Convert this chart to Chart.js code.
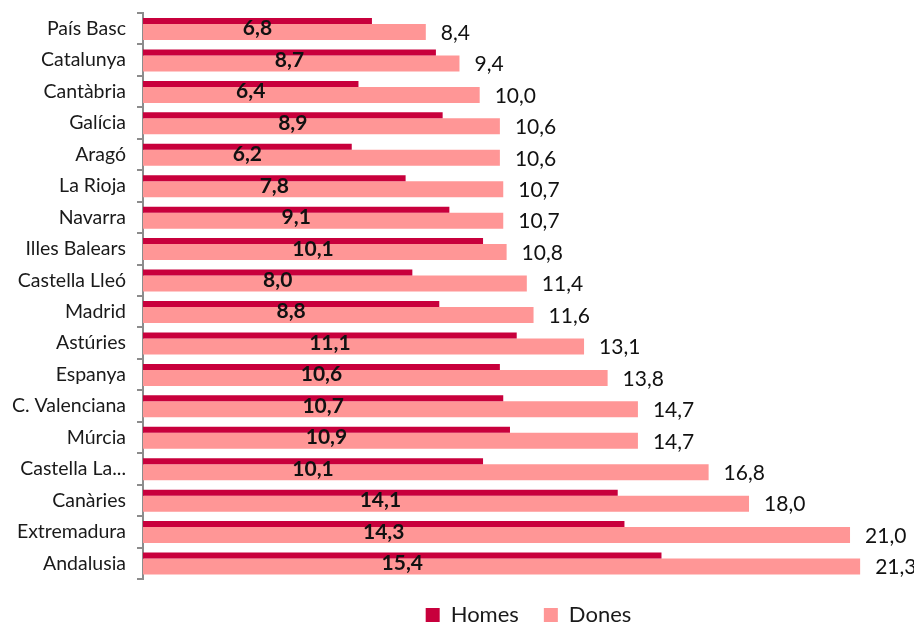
<!DOCTYPE html>
<html>
<head>
<meta charset="utf-8">
<script src="https://cdn.jsdelivr.net/npm/chart.js@4"></script>
<style>
  html, body { margin: 0; padding: 0; background: #fff; }
  #wrap { width: 914px; height: 624px; }
</style>
</head>
<body>
<div id="wrap"><canvas id="chart" width="914" height="624"></canvas></div>
<script>
// Taxa d'atur per comunitat, homes vs dones
const REGIONS = [
  "País Basc", "Catalunya", "Cantàbria", "Galícia", "Aragó", "La Rioja",
  "Navarra", "Illes Balears", "Castella Lleó", "Madrid", "Astúries",
  "Espanya", "C. Valenciana", "Múrcia", "Castella La...", "Canàries",
  "Extremadura", "Andalusia"
];
const HOMES = [6.8, 8.7, 6.4, 8.9, 6.2, 7.8, 9.1, 10.1, 8.0, 8.8, 11.1, 10.6, 10.7, 10.9, 10.1, 14.1, 14.3, 15.4];
const DONES = [8.4, 9.4, 10.0, 10.6, 10.6, 10.7, 10.7, 10.8, 11.4, 11.6, 13.1, 13.8, 14.7, 14.7, 16.8, 18.0, 21.0, 21.3];

const FONT = "Lato, 'Open Sans', sans-serif";
const fmt = (v) => v.toFixed(1).replace(".", ",");

// value labels: bold inside the Homes bar, plain after the Dones bar
const valueLabels = {
  id: "valueLabels",
  afterDatasetsDraw(chart) {
    const ctx = chart.ctx;
    const yScale = chart.scales.y;
    ctx.save();
    ctx.textBaseline = "middle";
    ctx.fillStyle = "#111";

    chart.getDatasetMeta(0).data.forEach((bar, i) => {
      ctx.font = "bold 21px " + FONT;
      ctx.textAlign = "center";
      ctx.fillText(fmt(HOMES[i]), (bar.base + bar.x) / 2, yScale.getPixelForValue(i));
    });

    chart.getDatasetMeta(1).data.forEach((bar, i) => {
      ctx.font = "21px " + FONT;
      ctx.textAlign = "left";
      ctx.fillText(fmt(DONES[i]), bar.x + 15, bar.y + 1);
    });
    ctx.restore();
  }
};

new Chart(document.getElementById("chart"), {
  type: "bar",
  data: {
    labels: REGIONS,
    datasets: [
      {
        label: "Homes",
        data: HOMES,
        backgroundColor: "#C8003C",
        borderWidth: 0,
        categoryPercentage: 0.983,
        barPercentage: 0.389
      },
      {
        label: "Dones",
        data: DONES,
        backgroundColor: "#FF9696",
        borderWidth: 0,
        categoryPercentage: 0.417,
        barPercentage: 2.44
      }
    ]
  },
  options: {
    indexAxis: "y",
    responsive: false,
    animation: false,
    layout: { padding: { top: 13, right: 0, bottom: -12, left: 0 } },
    scales: {
      x: {
        display: false,
        min: 0,
        max: 22.9
      },
      y: {
        afterFit: (scale) => {
          scale.width = 143;
          scale.paddingTop = 0;
          scale.paddingBottom = 0;
        },
        border: { display: true, color: "#8c8c8c", width: 2 },
        grid: {
          drawOnChartArea: false,
          drawTicks: true,
          tickLength: 6,
          color: "#8c8c8c",
          lineWidth: 2
        },
        ticks: {
          padding: 11,
          color: "#1a1a1a",
          font: { family: FONT, size: 19.5 }
        }
      }
    },
    plugins: {
      tooltip: { enabled: false },
      legend: {
        position: "bottom",
        fullSize: false,
        labels: {
          boxWidth: 14,
          boxHeight: 14,
          padding: 25,
          color: "#1a1a1a",
          font: { family: FONT, size: 22 }
        }
      }
    }
  },
  plugins: [valueLabels]
});
</script>
</body>
</html>
